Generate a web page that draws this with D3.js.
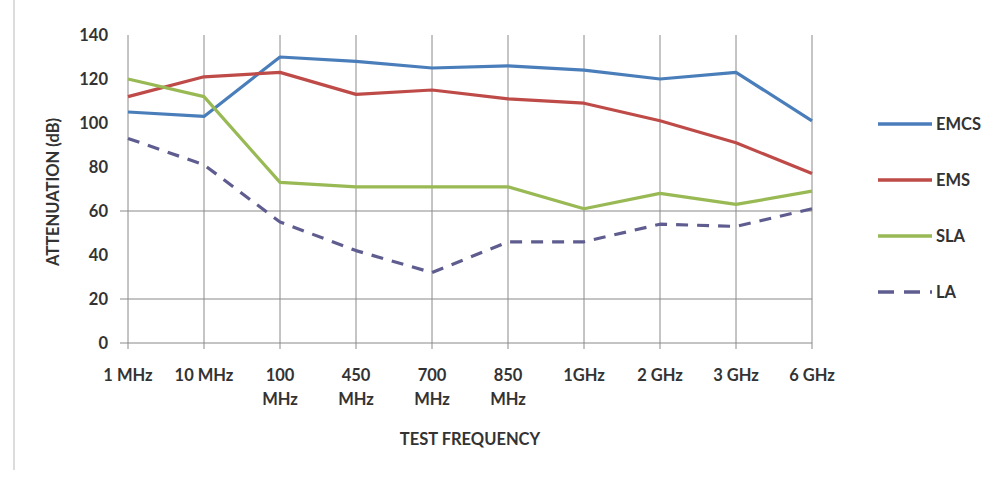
<!DOCTYPE html>
<html><head><meta charset="utf-8">
<script src="https://cdn.jsdelivr.net/npm/d3@7"></script>
<style>
html,body{margin:0;padding:0;background:#fff;}
text{font-family:Lato,"Open Sans",sans-serif;font-weight:bold;fill:#333;}
</style></head>
<body>
<svg id="chart" width="984" height="479"></svg>
<script>
const categories = ["1 MHz","10 MHz","100 MHz","450 MHz","700 MHz","850 MHz","1GHz","2 GHz","3 GHz","6 GHz"];
const emcs = [105,103,130,128,125,126,124,120,123,101];
const ems  = [112,121,123,113,115,111,109,101,91,77];
const sla  = [120,112,73,71,71,71,61,68,63,69];
const la   = [93,81,55,42,32,46,46,54,53,61];
const yTicks = [0,20,40,60,80,100,120,140];
const yGrid = [0,20,60];
const seriesNames = ["EMCS","EMS","SLA","LA"];

const series = [
  {name:"EMCS", values:emcs, color:"#4a7ebb", dash:null},
  {name:"EMS",  values:ems,  color:"#be4b48", dash:null},
  {name:"SLA",  values:sla,  color:"#98b954", dash:null},
  {name:"LA",   values:la,   color:"#5f5d8f", dash:"12,9"}
];

const FS = "16.5px";
const svg = d3.select("#chart");
const pLeft = 128, pRight = 812, pTop = 35, pBottom = 343;

const x = d3.scalePoint().domain(categories).range([pLeft, pRight]);
const y = d3.scaleLinear().domain([0,140]).range([pBottom, pTop]);

// left border line of chart area
svg.append("line").attr("x1",14).attr("x2",14).attr("y1",0).attr("y2",470)
  .attr("stroke","#d0d0d0").attr("stroke-width",1.5);

// vertical gridlines
svg.append("g").selectAll("line").data(categories).join("line")
  .attr("x1",d=>x(d)).attr("x2",d=>x(d)).attr("y1",pTop).attr("y2",pBottom+6)
  .attr("stroke","#8a8a8a").attr("stroke-width",1);

// horizontal gridlines
svg.append("g").selectAll("line").data(yGrid).join("line")
  .attr("x1",pLeft-8).attr("x2",pRight).attr("y1",d=>y(d)).attr("y2",d=>y(d))
  .attr("stroke","#8a8a8a").attr("stroke-width",1.2);

// y axis labels
const yAxis = d3.axisLeft(y).tickValues(yTicks).tickSize(0).tickPadding(20);
const yg = svg.append("g").attr("transform",`translate(${pLeft},0)`).call(yAxis);
yg.select(".domain").remove();
yg.selectAll("text").style("font-size",FS).style("font-family","Lato, sans-serif").style("font-weight","bold").attr("fill","#333");

// x axis labels
const xg = svg.append("g");
categories.forEach(c => {
  const parts = c.split(" ");
  const lines = (parts.length === 2 && parts[0].length === 3) ? parts : [c];
  const t = xg.append("text").attr("x", x(c)).attr("y", 381)
    .attr("text-anchor","middle").style("font-size",FS);
  lines.forEach((l,i)=> t.append("tspan").attr("x",x(c)).attr("dy", i===0?0:24).text(l));
});

// axis titles
svg.append("text").attr("x",470).attr("y",445).attr("text-anchor","middle")
  .style("font-size",FS).text("TEST FREQUENCY");
svg.append("text").attr("transform","translate(59,192) rotate(-90)").attr("text-anchor","middle")
  .style("font-size",FS).text("ATTENUATION (dB)");

// lines
const line = d3.line().x((d,i)=>x(categories[i])).y(d=>y(d));
series.forEach(s => {
  svg.append("path").datum(s.values).attr("d",line)
    .attr("fill","none").attr("stroke",s.color).attr("stroke-width",3.2)
    .attr("stroke-linejoin","round")
    .attr("stroke-dasharray",s.dash);
});

// legend
const legendY = d3.scalePoint().domain(seriesNames).range([124,292]);
series.forEach(s => {
  const ly = legendY(s.name);
  svg.append("line").attr("x1",878).attr("x2",932).attr("y1",ly).attr("y2",ly)
    .attr("stroke",s.color).attr("stroke-width",3.5).attr("stroke-dasharray",s.dash ? "16,10" : null);
  svg.append("text").attr("x",936).attr("y",ly+6).style("font-size",FS).text(s.name);
});
</script>
</body></html>
